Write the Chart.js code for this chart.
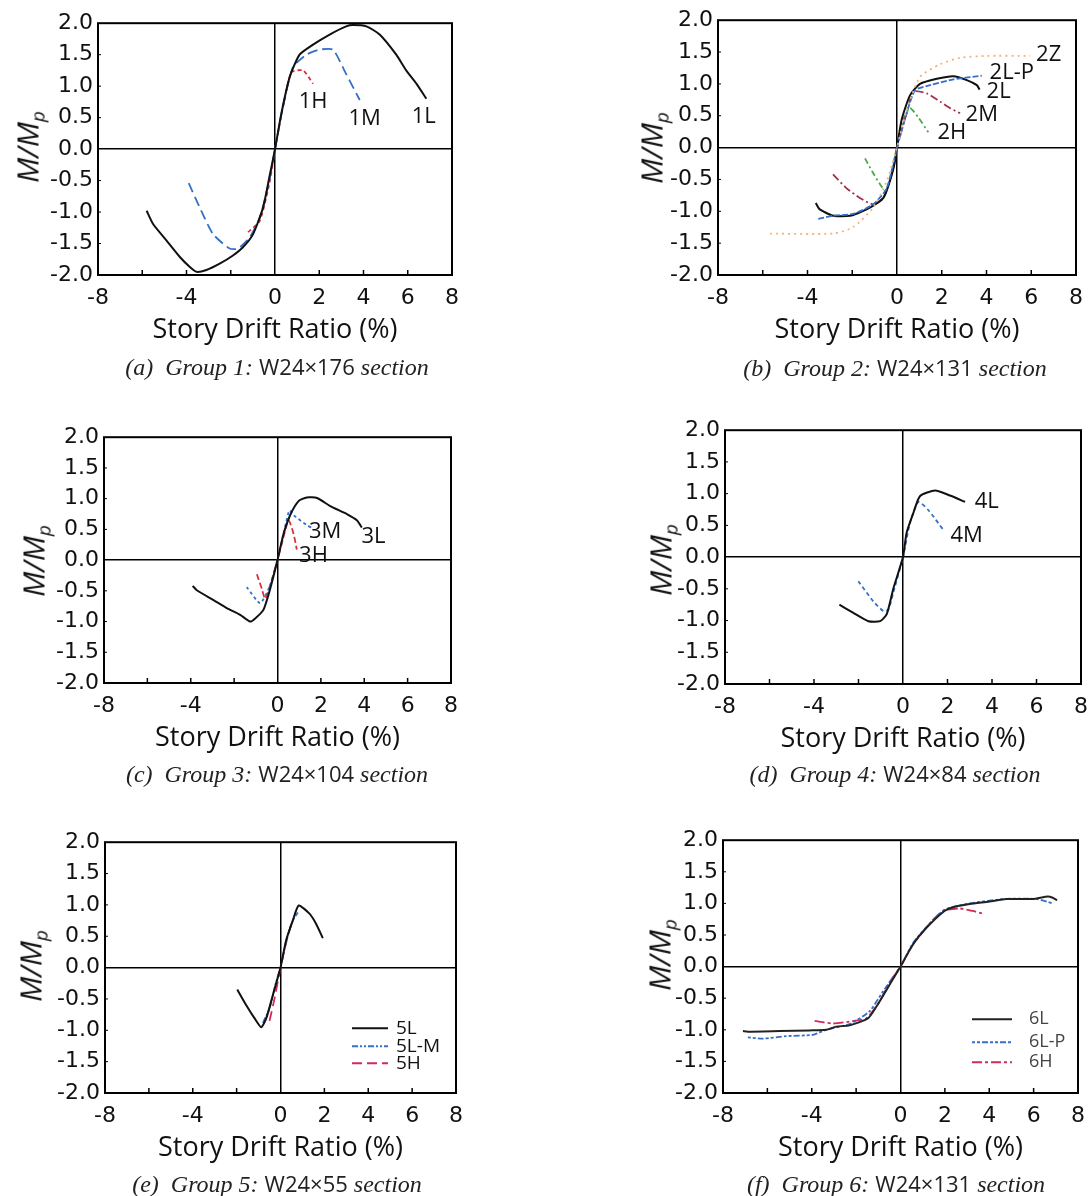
<!DOCTYPE html>
<html>
<head>
<meta charset="utf-8">
<script src="https://cdn.jsdelivr.net/npm/chart.js@4.4.0/dist/chart.umd.min.js"></script>
<style>
body{margin:0;background:#fff;width:1089px;height:1196px;position:relative;overflow:hidden}
canvas{position:absolute}
.ytitle{position:absolute;font-family:"Open Sans";font-style:italic;font-size:30px;transform:translate(-50%,-50%) rotate(-90deg);white-space:nowrap;color:#111;line-height:1}
.ytitle sub{font-size:19px;vertical-align:-6px}
.cap{position:absolute;font-family:"Liberation Serif";font-style:italic;font-size:24px;transform:translate(-50%,-50%);white-space:nowrap;color:#222}
.cap span{font-family:"Open Sans";font-style:normal;font-size:22px}
</style>
</head>
<body>
<script>
// story drift ratio (%) and M/Mp
var g1L_x = [-5.8,-5.51,-4.91,-4.31,-3.86,-3.55,-3.10,-2.5,-1.9,-1.45,-0.99,-0.54,-0.24,0,0.29,0.66,1.11,1.72,2.47,3.22,3.52,4.13,4.73,5.48,5.93,6.39,6.84];
var g1L_y = [-0.98,-1.19,-1.45,-1.71,-1.87,-1.95,-1.92,-1.82,-1.69,-1.56,-1.35,-0.93,-0.42,0,0.57,1.14,1.50,1.66,1.82,1.95,1.97,1.95,1.82,1.50,1.25,1.04,0.80];
var g1M_x = [-3.9,-3.40,-2.80,-2.05,-1.67,-1.14,-0.69,-0.24,0,0.36,0.81,1.42,2.02,2.62,3.22,3.83];
var g1M_y = [-0.54,-0.93,-1.35,-1.58,-1.58,-1.40,-1.09,-0.47,0,0.67,1.30,1.50,1.58,1.58,1.19,0.78];
var g1H_x = [-1.22,-0.69,-0.24,0,0.36,0.74,1.27,1.72];
var g1H_y = [-1.32,-1.14,-0.52,0,0.67,1.22,1.25,1.04];

var g2Z_x = [-5.67,-2.85,-1.96,-1.06,-0.46,0,0.43,1.03,1.93,2.82,4.01,5.96];
var g2Z_y = [-1.35,-1.35,-1.25,-0.94,-0.53,0,0.59,1.11,1.31,1.41,1.44,1.44];
var g2LP_x = [-3.52,-2.85,-1.96,-1.06,-0.46,0,0.43,0.81,1.48,2.52,3.79];
var g2LP_y = [-1.12,-1.07,-1.04,-0.89,-0.64,0,0.54,0.90,0.98,1.07,1.13];
var g2L_x = [-3.63,-3.45,-2.85,-2.10,-1.36,-0.61,-0.16,0,0.21,0.58,1.03,1.78,2.52,3.12,3.57,3.69];
var g2L_y = [-0.87,-0.97,-1.07,-1.07,-0.97,-0.79,-0.33,0,0.44,0.82,1.00,1.08,1.12,1.06,0.98,0.91];
var g2M_x = [-2.86,-2.25,-1.66,-1.07,-0.61,-0.16,0,0.43,0.73,1.33,1.93,2.37,2.82];
var g2M_y = [-0.42,-0.64,-0.79,-0.89,-0.79,-0.33,0,0.54,0.88,0.85,0.72,0.62,0.54];
var g2H_x = [-1.43,-1.10,-0.75,-0.50,-0.20,0,0.28,0.58,0.96,1.40];
var g2H_y = [-0.17,-0.38,-0.58,-0.68,-0.35,0,0.44,0.62,0.47,0.24];

var g3L_x = [-3.91,-3.72,-2.95,-2.34,-1.72,-1.26,-1.03,-0.65,-0.34,0,0.28,0.58,0.97,1.35,1.82,2.43,3.2,3.66,3.89];
var g3L_y = [-0.42,-0.49,-0.65,-0.78,-0.89,-1.00,-0.95,-0.81,-0.47,0,0.43,0.73,0.96,1.02,1.01,0.88,0.75,0.65,0.53];
var g3M_x = [-1.42,-0.80,-0.34,0,0.28,0.55,0.74,1.35,1.66];
var g3M_y = [-0.44,-0.70,-0.41,0,0.43,0.81,0.73,0.57,0.51];
var g3H_x = [-0.95,-0.72,-0.57,-0.34,0,0.28,0.51,0.74,0.89];
var g3H_y = [-0.23,-0.47,-0.63,-0.41,0,0.38,0.65,0.43,0.17];

var g4L_x = [-2.86,-2.23,-1.56,-1.03,-0.73,-0.43,0,0.16,0.46,0.76,1.44,2.11,2.79];
var g4L_y = [-0.75,-0.88,-1.01,-1.01,-0.90,-0.49,0,0.38,0.69,0.96,1.05,0.97,0.87];
var g4M_x = [-2.01,-1.33,-0.88,-0.66,-0.43,0,0.31,0.69,1.14,1.81];
var g4M_y = [-0.38,-0.70,-0.85,-0.83,-0.55,0,0.53,0.87,0.74,0.43];

var g5L_x = [-1.97,-1.56,-1.18,-0.88,-0.65,-0.35,0,0.26,0.56,0.83,1.32,1.62,1.93];
var g5L_y = [-0.35,-0.60,-0.81,-0.95,-0.81,-0.44,0,0.44,0.75,0.99,0.86,0.70,0.47];
var g5LM_x = [-0.80,-0.50,-0.20,0,0.26,0.56,0.79];
var g5LM_y = [-0.88,-0.65,-0.23,0,0.42,0.75,0.88];
var g5H_x = [-0.50,-0.27,0,0.26,0.49];
var g5H_y = [-0.85,-0.49,0,0.40,0.70];

var g6L_x = [-7.10,-6.88,-5.45,-4.10,-3.35,-2.90,-2.30,-1.47,-1.10,-0.65,0,0.56,1.16,1.98,2.36,3.11,4.01,4.76,5.96,6.64,6.86,7.06];
var g6L_y = [-1.02,-1.03,-1.02,-1.01,-1.00,-0.95,-0.93,-0.82,-0.64,-0.38,0,0.35,0.61,0.88,0.94,0.99,1.03,1.07,1.07,1.11,1.09,1.05];
var g6LP_x = [-6.88,-6.20,-5.15,-3.95,-3.35,-2.30,-1.40,-0.80,0,0.56,1.31,1.98,3.11,4.76,6.11,6.86];
var g6LP_y = [-1.12,-1.14,-1.10,-1.08,-1.00,-0.91,-0.71,-0.40,0,0.37,0.68,0.90,1.00,1.07,1.07,1.00];
var g6H_x = [-3.87,-3.05,-2.30,-1.55,-0.95,-0.50,0,0.56,1.31,1.91,2.66,3.26,3.78];
var g6H_y = [-0.86,-0.90,-0.87,-0.82,-0.56,-0.25,0,0.35,0.68,0.88,0.92,0.88,0.83];

var xTicks = [-8,-6,-4,-2,0,2,4,6,8];
var xTickShown = [-8,-4,0,2,4,6,8];
var yTicks = [-2,-1.5,-1,-0.5,0,0.5,1,1.5,2];
var captions = [
  ['(a)', 'Group 1:', 'W24\u00d7176'],
  ['(b)', 'Group 2:', 'W24\u00d7131'],
  ['(c)', 'Group 3:', 'W24\u00d7104'],
  ['(d)', 'Group 4:', 'W24\u00d784'],
  ['(e)', 'Group 5:', 'W24\u00d755'],
  ['(f)', 'Group 6:', 'W24\u00d7131']
];

var BLACK = '#111', BLUE = '#3570c8', RED = '#d8303a', DKRED = '#a0324a',
    GREEN = '#4aa84a', ORANGE = '#f4b27a', CRIMSON = '#d22a5a';

function pts(xs, ys) {
  return xs.map(function(x, i){ return {x: x, y: ys[i]}; });
}
function ds(label, xs, ys, color, dash, width) {
  return {label: label, data: pts(xs, ys), borderColor: color, borderDash: dash || [],
    borderWidth: width || 1.8, showLine: true, pointRadius: 0, tension: 0.2, fill: false};
}

var framePlugin = {
  id: 'frame',
  afterDatasetsDraw: function(chart, args, opts) {
    var ctx = chart.ctx, a = chart.chartArea, xs = chart.scales.x, ys = chart.scales.y;
    ctx.save();
    ctx.strokeStyle = '#000';
    ctx.lineWidth = 2;
    ctx.strokeRect(a.left, a.top, a.right - a.left, a.bottom - a.top);
    ctx.lineWidth = 1.5;
    xTicks.forEach(function(v){
      if (v === -8 || v === 0 || v === 8) return;
      var px = xs.getPixelForValue(v);
      ctx.beginPath(); ctx.moveTo(px, a.bottom); ctx.lineTo(px, a.bottom - 5); ctx.stroke();
    });
    ctx.lineWidth = 1;
    yTicks.forEach(function(v){
      if (v === -2 || v === 0 || v === 2) return;
      var py = ys.getPixelForValue(v);
      ctx.beginPath(); ctx.moveTo(a.left, py); ctx.lineTo(a.left + 3, py); ctx.stroke();
    });
    ctx.fillStyle = '#111';
    ctx.font = '22px "Open Sans"';
    ctx.textAlign = 'center'; ctx.textBaseline = 'middle';
    (opts.labels || []).forEach(function(l){
      ctx.fillText(l[0], xs.getPixelForValue(l[1]), ys.getPixelForValue(l[2]));
    });
    if (opts.legend) {
      var lg = opts.legend;
      ctx.font = lg.font;
      ctx.textAlign = 'left';
      chart.data.datasets.forEach(function(d, i){
        var y = a.top + lg.rows[i];
        ctx.strokeStyle = d.borderColor; ctx.lineWidth = 2;
        ctx.setLineDash(d.borderDash);
        ctx.beginPath(); ctx.moveTo(a.left + lg.x0, y); ctx.lineTo(a.left + lg.x1, y); ctx.stroke();
        ctx.setLineDash([]);
        ctx.fillStyle = lg.color;
        ctx.fillText(d.label, a.left + lg.tx, y);
      });
    }
    ctx.restore();
  }
};

function panel(box, datasets, labels, legend, ytPos, capPos, cap) {
  var L = box[0] - 62, T = box[1] - 13, R = box[2] + 18, B = box[3] + 80;
  var cv = document.createElement('canvas');
  cv.width = R - L; cv.height = B - T;
  cv.style.left = L + 'px'; cv.style.top = T + 'px';
  document.body.appendChild(cv);
  new Chart(cv, {
    type: 'scatter',
    data: {datasets: datasets},
    plugins: [framePlugin],
    options: {
      responsive: false,
      animation: false,
      layout: {padding: {left: 0, top: 13, right: 18, bottom: 0}},
      plugins: {legend: {display: false}, tooltip: {enabled: false},
        frame: {labels: labels, legend: legend}},
      scales: {
        x: {
          type: 'linear', min: -8, max: 8,
          afterBuildTicks: function(s){ s.ticks = xTicks.map(function(v){ return {value: v}; }); },
          afterFit: function(s){ s.height = 80; },
          border: {display: false},
          grid: {drawTicks: false, lineWidth: 1.5,
            color: function(c){ return c.tick && c.tick.value === 0 ? '#000' : 'rgba(0,0,0,0)'; }},
          ticks: {color: '#111', padding: 10, maxRotation: 0, autoSkip: false,
            font: {family: 'DejaVu Sans', size: 22},
            callback: function(v){ return xTickShown.indexOf(v) >= 0 ? String(v) : ''; }},
          title: {display: true, text: 'Story Drift Ratio (%)', color: '#111',
            font: {family: 'Open Sans', size: 27}, padding: {top: 0, bottom: 8}}
        },
        y: {
          min: -2, max: 2,
          afterBuildTicks: function(s){ s.ticks = yTicks.map(function(v){ return {value: v}; }); },
          ticks: {color: '#111', padding: 5,
            font: {family: 'DejaVu Sans', size: 22},
            callback: function(v){ return v.toFixed(1); }},
          afterFit: function(s){ s.width = 62; },
          border: {display: false},
          grid: {drawTicks: false, lineWidth: 1.5,
            color: function(c){ return c.tick && c.tick.value === 0 ? '#000' : 'rgba(0,0,0,0)'; }}
        }
      }
    }
  });
  var yt = document.createElement('div');
  yt.className = 'ytitle';
  yt.innerHTML = 'M/M<sub>p</sub>';
  yt.style.left = ytPos[0] + 'px'; yt.style.top = ytPos[1] + 'px';
  document.body.appendChild(yt);
  var c = document.createElement('div');
  c.className = 'cap';
  c.innerHTML = cap[0] + '&nbsp; ' + cap[1] + ' <span>' + cap[2] + '</span> section';
  c.style.left = capPos[0] + 'px'; c.style.top = capPos[1] + 'px';
  document.body.appendChild(c);
}

panel([98, 18, 452, 275], [
  ds('1L', g1L_x, g1L_y, BLACK, [], 2),
  ds('1M', g1M_x, g1M_y, BLUE, [10, 5]),
  ds('1H', g1H_x, g1H_y, RED, [4, 3])
], [['1H', 1.72, 0.75], ['1M', 4.05, 0.49], ['1L', 6.72, 0.52]], null, [30, 147], [277, 366], captions[0]);

panel([718, 15, 1076, 275], [
  ds('2Z', g2Z_x, g2Z_y, ORANGE, [2, 4]),
  ds('2L-P', g2LP_x, g2LP_y, BLUE, [6, 2]),
  ds('2L', g2L_x, g2L_y, BLACK, [], 2),
  ds('2M', g2M_x, g2M_y, DKRED, [8, 3, 2, 3]),
  ds('2H', g2H_x, g2H_y, GREEN, [6, 3, 2, 3])
], [['2Z', 6.78, 1.46], ['2L-P', 5.13, 1.18], ['2L', 4.54, 0.88], ['2M', 3.79, 0.52], ['2H', 2.45, 0.24]],
  null, [654, 148], [895, 367], captions[1]);

panel([104, 432, 451, 683], [
  ds('3L', g3L_x, g3L_y, BLACK, [], 2),
  ds('3M', g3M_x, g3M_y, BLUE, [3, 3]),
  ds('3H', g3H_x, g3H_y, RED, [6, 3])
], [['3M', 2.2, 0.46], ['3L', 4.43, 0.38], ['3H', 1.66, 0.07]], null, [36, 561], [277, 773], captions[2]);

panel([725, 425, 1081, 684], [
  ds('4L', g4L_x, g4L_y, BLACK, [], 2),
  ds('4M', g4M_x, g4M_y, BLUE, [4, 3])
], [['4L', 3.76, 0.87], ['4M', 2.86, 0.33]], null, [663, 560], [895, 773], captions[3]);

panel([105, 837, 456, 1093], [
  ds('5L', g5L_x, g5L_y, BLACK, [], 2),
  ds('5L-M', g5LM_x, g5LM_y, BLUE, [6, 2, 2, 2, 2, 2]),
  ds('5H', g5H_x, g5H_y, CRIMSON, [10, 5])
], [], {x0: 247, x1: 283, tx: 291, rows: [186, 204, 221], font: '19px "Open Sans"', color: '#111'},
  [33, 966], [277, 1183], captions[4]);

panel([723, 835, 1078, 1093], [
  ds('6L', g6L_x, g6L_y, '#222', [], 2),
  ds('6L-P', g6LP_x, g6LP_y, BLUE, [3, 2, 3, 2, 6, 2]),
  ds('6H', g6H_x, g6H_y, CRIMSON, [10, 3, 3, 3])
], [], {x0: 249, x1: 289, tx: 306, rows: [179, 202, 222], font: '18px "Open Sans"', color: '#444'},
  [662, 955], [896, 1183], captions[5]);
</script>
</body>
</html>
